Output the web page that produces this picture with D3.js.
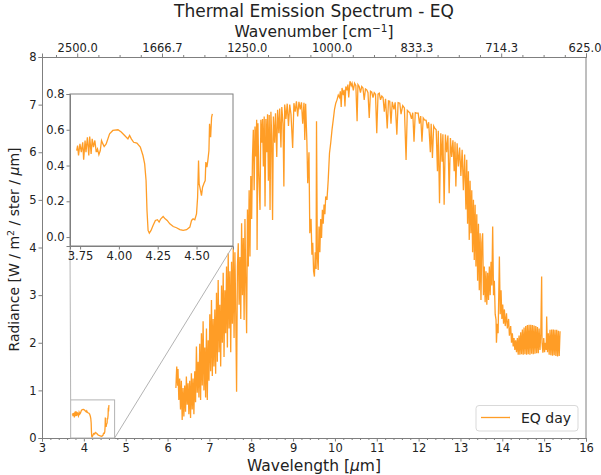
<!DOCTYPE html>
<html>
<head>
<meta charset="utf-8">
<script src="https://cdn.jsdelivr.net/npm/d3@7"></script>
<style>
  body { margin: 0; background: #fff; }
  text { font-family: "DejaVu Sans", sans-serif; fill: #222; }
</style>
</head>
<body>
<svg id="chart" width="601" height="475"></svg>
<script>
// Spectrum pieces, [wavelength (um), radiance]
const window4um = [
  [3.728,0.484],[3.734,0.512],[3.740,0.456],[3.749,0.521],[3.758,0.475],[3.767,0.530],
  [3.773,0.432],[3.782,0.540],[3.788,0.475],[3.797,0.558],[3.806,0.456],[3.812,0.562],
  [3.821,0.465],[3.828,0.549],[3.836,0.503],[3.845,0.540],[3.854,0.475],[3.862,0.493],
  [3.871,0.461],[3.880,0.484],[3.888,0.540],[3.897,0.521],[3.905,0.506],[3.918,0.521],
  [3.940,0.577],[3.961,0.596],[3.994,0.600],[4.015,0.587],[4.037,0.568],[4.058,0.549],
  [4.069,0.568],[4.080,0.549],[4.095,0.530],[4.116,0.525],[4.138,0.503],[4.155,0.456],
  [4.166,0.409],[4.175,0.316],[4.181,0.149],[4.188,0.037],[4.196,0.022],[4.207,0.037],
  [4.220,0.065],[4.235,0.093],[4.248,0.097],[4.259,0.084],[4.270,0.102],[4.285,0.115],
  [4.298,0.102],[4.311,0.093],[4.328,0.074],[4.350,0.059],[4.371,0.052],[4.393,0.042],
  [4.414,0.037],[4.436,0.041],[4.457,0.056],[4.468,0.093],[4.478,0.102],[4.489,0.097],
  [4.500,0.130],[4.507,0.223],[4.513,0.428],[4.517,0.298],[4.526,0.260],[4.532,0.232],
  [4.539,0.279],[4.547,0.298],[4.556,0.316],[4.560,0.419],[4.567,0.391],[4.573,0.428],
  [4.580,0.484],[4.584,0.633],[4.591,0.558],[4.597,0.670],[4.602,0.689]
];

const waterBand = [
  [6.20,1.05],[6.21,1.30],[6.22,1.50],[6.24,1.10],[6.25,1.45],[6.27,0.80],[6.29,1.25],
  [6.31,0.60],[6.33,1.20],[6.35,0.38],[6.37,1.05],[6.39,0.45],[6.41,1.10],[6.43,0.55],
  [6.45,1.29],[6.47,0.70],[6.49,1.15],[6.51,0.50],[6.53,1.20],[6.55,0.42],[6.57,1.36],
  [6.59,0.60],[6.61,1.25],[6.63,0.50],[6.65,1.40],[6.67,0.75],[6.69,1.92],[6.71,0.95],
  [6.73,1.60],[6.75,0.85],[6.77,1.98],[6.79,0.80],[6.81,2.20],[6.83,1.10],[6.85,2.45],
  [6.87,1.00],[6.89,1.90],[6.91,0.85],[6.93,2.30],[6.95,0.80],[6.97,2.05],[6.99,1.20],
  [7.01,2.60],[7.03,1.40],[7.05,2.90],[7.07,1.30],[7.09,2.50],[7.11,1.50],[7.13,2.70],
  [7.15,1.35],[7.17,3.05],[7.19,1.60],[7.21,3.32],[7.23,1.80],[7.25,2.80],[7.27,1.50],
  [7.29,3.20],[7.31,2.00],[7.33,3.47],[7.35,1.70],[7.37,3.10],[7.39,2.20],[7.41,3.60],
  [7.43,1.90],[7.45,3.88],[7.47,2.30],[7.49,3.50],[7.51,1.80],[7.53,3.70],[7.55,2.40],
  [7.57,4.00],[7.59,2.10],[7.61,3.90],[7.63,2.60],[7.65,0.97],[7.67,3.60],[7.69,4.09],
  [7.71,2.80],[7.73,3.80],[7.75,2.50],[7.77,4.51],[7.79,3.00],[7.81,4.20],[7.83,2.48],
  [7.85,4.60],[7.87,3.20],[7.89,2.20],[7.91,4.80],[7.93,3.60],[7.95,5.20],[7.97,3.81],
  [7.99,5.50]
];

const windowLow = [
  [8.01,4.60],[8.03,5.90],[8.05,6.47],[8.07,5.20],[8.09,6.54],[8.11,5.91],[8.13,6.68],
  [8.14,3.95],[8.16,6.61],[8.18,5.60],[8.21,4.79],[8.23,6.68],[8.25,6.20],[8.27,6.70],
  [8.29,5.70],[8.31,6.75],[8.33,4.86],[8.35,6.70],[8.37,6.00],[8.39,6.80],[8.41,5.40],
  [8.43,6.78],[8.45,4.79],[8.47,6.85],[8.49,6.30],[8.51,4.58],[8.53,6.75],[8.56,6.20],
  [8.58,6.82],[8.61,5.90],[8.63,6.89],[8.66,6.40],[8.68,6.92],[8.71,6.10],[8.73,6.95],
  [8.76,6.60],[8.78,5.28],[8.80,7.00],[8.83,6.70],[8.86,7.02],[8.89,6.55],[8.92,7.00],
  [8.95,6.80],[8.99,6.09],[9.02,7.03],[9.05,6.85],[9.08,7.07],[9.11,6.75],[9.14,7.06],
  [9.17,6.90],[9.20,7.05],[9.23,6.60],[9.26,7.04],[9.28,6.26],[9.30,7.02]
];

const ozoneBand = [
  [9.33,6.22],[9.35,5.35],[9.38,6.00],[9.40,4.30],[9.43,4.60],[9.45,3.85],[9.47,4.10],
  [9.49,3.50],[9.51,3.39],[9.53,3.90],[9.55,3.55],[9.56,6.65],[9.58,3.80],[9.60,3.53],
  [9.62,4.44],[9.64,3.90],[9.66,4.60],[9.68,4.20],[9.70,4.79],[9.72,4.50],[9.74,4.90],
  [9.76,4.70],[9.78,5.07],[9.81,5.00],[9.84,5.42],[9.87,5.98],[9.90,6.20],[9.93,6.47],
  [9.96,6.68],[9.99,6.90]
];

const windowHigh = [
  [10.02,7.03],[10.05,7.10],[10.08,7.20],[10.11,7.15],[10.13,7.28],[10.15,6.95],[10.17,7.35],
  [10.20,7.20],[10.22,7.31],[10.24,6.96],[10.26,7.38],[10.29,7.30],[10.31,7.42],[10.33,7.15],
  [10.36,7.49],[10.39,7.40],[10.41,7.45],[10.44,7.30],[10.47,7.45],[10.50,7.40],[10.53,6.65],
  [10.55,7.42],[10.58,7.38],[10.61,7.25],[10.64,7.38],[10.67,7.35],[10.70,7.10],[10.73,7.33],
  [10.76,7.31],[10.79,7.25],[10.82,6.72],[10.85,7.28],[10.88,7.26],[10.91,7.15],[10.94,7.25],
  [10.97,7.22],[11.00,6.40],[11.03,7.22],[11.06,7.24],[11.09,7.10],[11.12,7.18],[11.15,7.15],
  [11.18,6.85],[11.21,7.12],[11.25,6.50],[11.28,7.08],[11.31,7.07],[11.34,6.60],[11.37,7.06],
  [11.41,6.90],[11.44,7.05],[11.48,6.37],[11.51,7.04],[11.55,7.03],[11.58,6.80],[11.62,6.98],
  [11.66,6.93],[11.70,5.84],[11.73,6.88],[11.76,6.85],[11.79,6.83],[11.83,6.70],[11.86,6.83],
  [11.89,6.22],[11.92,6.83],[11.95,6.82],[11.99,6.82],[12.02,6.60],[12.05,6.76],[12.08,6.22],
  [12.11,6.72],[12.14,6.68],[12.18,6.67],[12.21,6.50],[12.24,6.63],[12.28,6.00],[12.30,6.60],
  [12.33,5.88],[12.36,6.55],[12.39,6.50],[12.42,6.47],[12.45,5.60],[12.47,6.45],[12.50,4.93],
  [12.53,6.40],[12.56,5.80],[12.58,6.38],[12.61,4.90],[12.64,6.37],[12.67,6.00],[12.70,6.35],
  [12.73,5.14],[12.76,6.30],[12.79,5.90],[12.82,6.25],[12.85,5.60],[12.87,6.22],[12.89,5.28],
  [12.92,6.19],[12.95,5.70],[12.98,6.10]
];

const co2Band = [
  [13.01,5.50],[13.04,6.05],[13.07,5.20],[13.10,5.95],[13.13,4.80],[13.15,5.84],[13.17,4.50],
  [13.19,5.60],[13.21,4.16],[13.23,5.40],[13.25,4.30],[13.27,5.20],[13.29,3.90],[13.31,5.00],
  [13.33,3.74],[13.35,4.90],[13.37,3.60],[13.39,4.70],[13.41,3.30],[13.43,4.50],[13.45,3.10],
  [13.47,4.30],[13.49,2.90],[13.51,4.10],[13.53,4.30],[13.55,3.00],[13.57,3.60],[13.59,2.85],
  [13.61,3.50],[13.63,2.80],[13.65,3.47],[13.67,2.90],[13.69,3.60],[13.71,3.00],[13.73,3.70],
  [13.75,3.20],[13.77,4.44],[13.79,3.00],[13.81,3.30],[13.83,2.60],[13.85,2.48],[13.86,2.00],
  [13.88,2.40],[13.90,2.20],[13.93,3.81],[13.95,2.60],[13.97,3.10],[13.99,2.50],[14.01,2.80],
  [14.03,2.40],[14.05,2.70],[14.07,2.35],[14.10,2.62],[14.12,2.30],[14.15,2.50],[14.17,2.15],
  [14.20,2.35],[14.22,2.00],[14.24,2.20],[14.26,1.92],[14.28,2.10],[14.30,1.85],[14.32,2.05],
  [14.34,1.80],[14.36,2.10],[14.38,1.75],[14.40,2.15],[14.42,1.75],[14.44,2.22],[14.46,1.76],
  [14.48,2.28],[14.50,1.75],[14.52,2.32],[14.54,1.76],[14.56,2.35],[14.58,1.75],[14.60,2.37],
  [14.62,1.76],[14.64,2.38],[14.66,1.75],[14.68,2.38],[14.70,1.77],[14.72,2.37],[14.74,1.76],
  [14.76,2.36],[14.78,1.77],[14.80,2.35],[14.82,1.78],[14.84,2.33],[14.86,1.78],[14.88,2.30],
  [14.90,1.85],[14.92,2.20],[14.94,3.39],[14.95,2.00],[14.97,1.79],[14.99,2.10],[15.01,1.80],
  [15.03,2.00],[15.05,1.85],[15.06,2.55],[15.08,1.80],[15.10,2.20],[15.12,1.75],[15.14,2.27],
  [15.16,1.74],[15.18,2.28],[15.20,1.73],[15.22,2.28],[15.24,1.74],[15.26,2.27],[15.28,1.72],
  [15.30,2.27],[15.32,1.71],[15.34,2.25],[15.36,1.72],[15.38,2.24]
];

// Tick values
const xTicks = [3, 4, 5, 6, 7, 8, 9, 10, 11, 12, 13, 14, 15, 16];
const topTicks = [4, 6, 8, 10, 12, 14, 16];
const yTicks = [0, 1, 2, 3, 4, 5, 6, 7, 8];
const insetXTicks = [3.75, 4.0, 4.25, 4.5];
const insetYTicks = [0.0, 0.2, 0.4, 0.6, 0.8];

const lineColor = "#ff8c00";
const spineColor = "#7f7f7f";

const svg = d3.select("#chart");
const margin = { top: 57, right: 15, bottom: 37, left: 42 };
const W = 601, H = 475;

const x = d3.scaleLinear().domain([3, 16]).range([margin.left, W - margin.right]);
const y = d3.scaleLinear().domain([0, 8]).range([H - margin.bottom, margin.top]);
// the twin top axis has its own (slightly different) limits
const xTop = d3.scaleLinear().domain([3.17, 16]).range([margin.left, W - margin.right]);

// main spectrum (the 4um window is separate, no line across the gap)
const mainSpectrum = waterBand.concat(windowLow, ozoneBand, windowHigh, co2Band);

svg.append("clipPath").attr("id", "clipMain")
  .append("rect")
  .attr("x", margin.left).attr("y", margin.top)
  .attr("width", W - margin.left - margin.right)
  .attr("height", H - margin.top - margin.bottom);

const line = d3.line().x(d => x(d[0])).y(d => y(d[1]));

const plot = svg.append("g").attr("clip-path", "url(#clipMain)");
[window4um, mainSpectrum].forEach(seg => {
  plot.append("path")
    .attr("d", line(seg))
    .attr("fill", "none")
    .attr("stroke", lineColor)
    .attr("stroke-opacity", 0.85)
    .attr("stroke-width", 1.3);
});

function styleAxis(g) {
  g.select(".domain").attr("stroke", spineColor);
  g.selectAll(".tick line").attr("stroke", spineColor);
  g.selectAll(".tick text").attr("font-size", 11.5).attr("fill", "#222")
    .attr("font-family", "DejaVu Sans, sans-serif");
}

// bottom axis + minor ticks
const minorBottom = d3.range(3, 16.001, 0.2).filter(v => Math.abs(v - Math.round(v)) > 1e-6);
svg.append("g")
  .attr("transform", `translate(0,${H - margin.bottom})`)
  .call(d3.axisBottom(x).tickValues(minorBottom).tickSize(2).tickFormat(""))
  .call(styleAxis);
svg.append("g")
  .attr("transform", `translate(0,${H - margin.bottom})`)
  .call(d3.axisBottom(x).tickValues(xTicks).tickSize(3.5).tickPadding(2).tickFormat(d3.format("d")))
  .call(styleAxis);

// top axis: wavenumber
const minorTop = d3.range(3.5, 16.001, 0.5).filter(v => !topTicks.includes(v));
svg.append("g")
  .attr("transform", `translate(0,${margin.top})`)
  .call(d3.axisTop(xTop).tickValues(minorTop).tickSize(2).tickFormat(""))
  .call(styleAxis);
const topAxis = svg.append("g")
  .attr("transform", `translate(0,${margin.top})`)
  .call(d3.axisTop(xTop).tickValues(topTicks).tickSize(3.5).tickPadding(2)
    .tickFormat(d => (10000 / d).toFixed(1)))
  .call(styleAxis);
// keep the last label inside the picture
topAxis.selectAll(".tick text").filter(d => d === 16).attr("text-anchor", "end").attr("dx", 15);

// left axis
svg.append("g")
  .attr("transform", `translate(${margin.left},0)`)
  .call(d3.axisLeft(y).tickValues(yTicks).tickSize(3.5).tickPadding(2).tickFormat(d3.format("d")))
  .call(styleAxis);

// right spine
svg.append("line")
  .attr("x1", x(16)).attr("x2", x(16))
  .attr("y1", y(0)).attr("y2", y(8))
  .attr("stroke", spineColor);

// titles
svg.append("text")
  .attr("x", x(9.5)).attr("y", 17)
  .attr("text-anchor", "middle").attr("font-size", 17)
  .text("Thermal Emission Spectrum - EQ");

const wn = svg.append("text")
  .attr("x", x(9.5)).attr("y", 37)
  .attr("text-anchor", "middle").attr("font-size", 15.5);
wn.append("tspan").text("Wavenumber [cm");
wn.append("tspan").attr("dy", -5).attr("font-size", 10.5).text("\u22121");
wn.append("tspan").attr("dy", 5).text("]");

const xl = svg.append("text")
  .attr("x", x(9.5)).attr("y", 471)
  .attr("text-anchor", "middle").attr("font-size", 15.5);
xl.append("tspan").text("Wavelength [");
xl.append("tspan").attr("font-style", "italic").text("\u03bc");
xl.append("tspan").text("m]");

const yl = svg.append("text")
  .attr("transform", `translate(19,${y(4) + 2}) rotate(-90)`)
  .attr("text-anchor", "middle").attr("font-size", 14);
yl.append("tspan").text("Radiance [W / m");
yl.append("tspan").attr("dy", -5).attr("font-size", 9.5).text("2");
yl.append("tspan").attr("dy", 5).text(" / ster / ");
yl.append("tspan").attr("font-style", "italic").text("\u03bc");
yl.append("tspan").text("m]");

// inset zoom on the 4 um window
const inset = { left: 70, right: 233, top: 94, bottom: 246 };
const xi = d3.scaleLinear().domain([3.685, 4.735]).range([inset.left, inset.right]);
const yi = d3.scaleLinear().domain([-0.05, 0.8]).range([inset.bottom, inset.top]);

// indicator box and connectors
const indicator = { x0: x(3.685), x1: x(4.735), y0: y(0), y1: y(0.8) };
svg.append("rect")
  .attr("x", indicator.x0).attr("y", indicator.y1)
  .attr("width", indicator.x1 - indicator.x0)
  .attr("height", indicator.y0 - indicator.y1)
  .attr("fill", "none").attr("stroke", "#b3b3b3");
svg.append("line")
  .attr("x1", inset.left).attr("y1", inset.bottom)
  .attr("x2", indicator.x0).attr("y2", indicator.y1)
  .attr("stroke", "#b3b3b3");
svg.append("line")
  .attr("x1", inset.right).attr("y1", inset.bottom)
  .attr("x2", indicator.x1).attr("y2", indicator.y0)
  .attr("stroke", "#b3b3b3");

svg.append("rect")
  .attr("x", inset.left).attr("y", inset.top)
  .attr("width", inset.right - inset.left).attr("height", inset.bottom - inset.top)
  .attr("fill", "#fff").attr("stroke", spineColor);

svg.append("clipPath").attr("id", "clipInset")
  .append("rect")
  .attr("x", inset.left).attr("y", inset.top)
  .attr("width", inset.right - inset.left).attr("height", inset.bottom - inset.top);

svg.append("path")
  .attr("clip-path", "url(#clipInset)")
  .attr("d", d3.line().x(d => xi(d[0])).y(d => yi(d[1]))(window4um))
  .attr("fill", "none")
  .attr("stroke", lineColor)
  .attr("stroke-opacity", 0.85)
  .attr("stroke-width", 1.3);

svg.append("g")
  .attr("transform", `translate(0,${inset.bottom})`)
  .call(d3.axisBottom(xi).tickValues(insetXTicks).tickSize(3.5).tickPadding(2).tickFormat(d3.format(".2f")))
  .call(styleAxis);
svg.append("g")
  .attr("transform", `translate(${inset.left},0)`)
  .call(d3.axisLeft(yi).tickValues(insetYTicks).tickSize(3.5).tickPadding(2).tickFormat(d3.format(".1f")))
  .call(styleAxis);

// legend
const legend = svg.append("g");
legend.append("rect")
  .attr("x", 476).attr("y", 405.5).attr("width", 102).attr("height", 25.5)
  .attr("rx", 3).attr("fill", "#fff").attr("fill-opacity", 0.8)
  .attr("stroke", "#d9d9d9");
legend.append("line")
  .attr("x1", 481).attr("x2", 510).attr("y1", 417.5).attr("y2", 417.5)
  .attr("stroke", lineColor).attr("stroke-opacity", 0.85).attr("stroke-width", 1.3);
legend.append("text")
  .attr("x", 521).attr("y", 422.5).attr("font-size", 14)
  .text("EQ day");
</script>
</body>
</html>
